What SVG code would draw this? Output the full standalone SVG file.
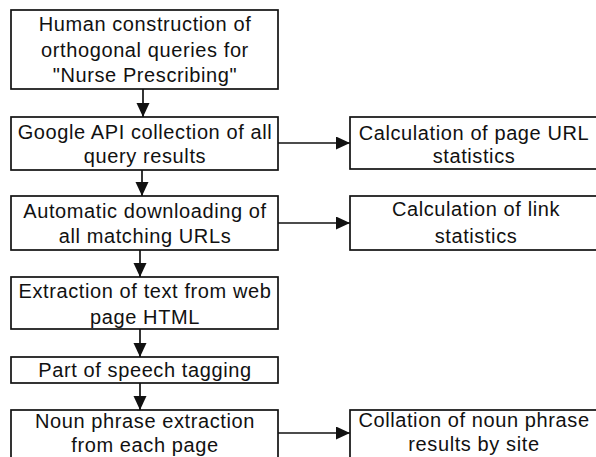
<svg xmlns="http://www.w3.org/2000/svg" width="596" height="457" viewBox="0 0 596 457">
<defs>
<style>
.box{fill:#fff;stroke:#111;stroke-width:1.7}
.t{font-family:"Liberation Sans",Arial,sans-serif;font-size:20px;letter-spacing:0.6px;fill:#111;text-anchor:middle}
.c{stroke:#111;stroke-width:1.7;fill:none;marker-end:url(#ah)}
</style>
<marker id="ah" markerUnits="userSpaceOnUse" markerWidth="16" markerHeight="14" refX="14" refY="6.5" orient="auto">
<path d="M0,0 L14,6.5 L0,13 Z" fill="#111"/>
</marker>
</defs>
<rect width="596" height="457" fill="#fff"/>
<g id="connectors">
<line class="c" x1="143" y1="89" x2="143" y2="117"/>
<line class="c" x1="142" y1="170" x2="142" y2="196"/>
<line class="c" x1="140" y1="250" x2="140" y2="277"/>
<line class="c" x1="140" y1="329" x2="140" y2="357"/>
<line class="c" x1="140" y1="383" x2="140" y2="410"/>
<line class="c" x1="278" y1="143" x2="350" y2="143"/>
<line class="c" x1="278" y1="223" x2="350" y2="223"/>
<line class="c" x1="278" y1="433" x2="350" y2="433"/>
</g>
<g id="n1"><rect class="box" x="11" y="10" width="267" height="79"/>
<text class="t" x="145" y="31">Human construction of</text>
<text class="t" x="145" y="57">orthogonal queries for</text>
<text class="t" x="145" y="82">"Nurse Prescribing"</text></g>
<g id="n2"><rect class="box" x="11" y="117" width="267" height="53"/>
<text class="t" x="145" y="139">Google API collection of all</text>
<text class="t" x="145" y="163">query results</text></g>
<g id="n3"><rect class="box" x="11" y="196" width="267" height="54"/>
<text class="t" x="145" y="218">Automatic downloading of</text>
<text class="t" x="145" y="243">all matching URLs</text></g>
<g id="n4"><rect class="box" x="11" y="277" width="267" height="52"/>
<text class="t" x="145" y="298">Extraction of text from web</text>
<text class="t" x="145" y="324">page HTML</text></g>
<g id="n5"><rect class="box" x="11" y="357" width="267" height="26"/>
<text class="t" x="145" y="377">Part of speech tagging</text></g>
<g id="n6"><rect class="box" x="11" y="410" width="267" height="60"/>
<text class="t" x="145" y="428">Noun phrase extraction</text>
<text class="t" x="145" y="452">from each page</text></g>
<g id="r1"><rect class="box" x="350" y="117" width="260" height="52"/>
<text class="t" x="474" y="140">Calculation of page URL</text>
<text class="t" x="474" y="163">statistics</text></g>
<g id="r2"><rect class="box" x="350" y="196" width="260" height="54"/>
<text class="t" x="476" y="216">Calculation of link</text>
<text class="t" x="476" y="243">statistics</text></g>
<g id="r3"><rect class="box" x="350" y="410" width="260" height="60"/>
<text class="t" x="474" y="427">Collation of noun phrase</text>
<text class="t" x="474" y="451">results by site</text></g>
</svg>
